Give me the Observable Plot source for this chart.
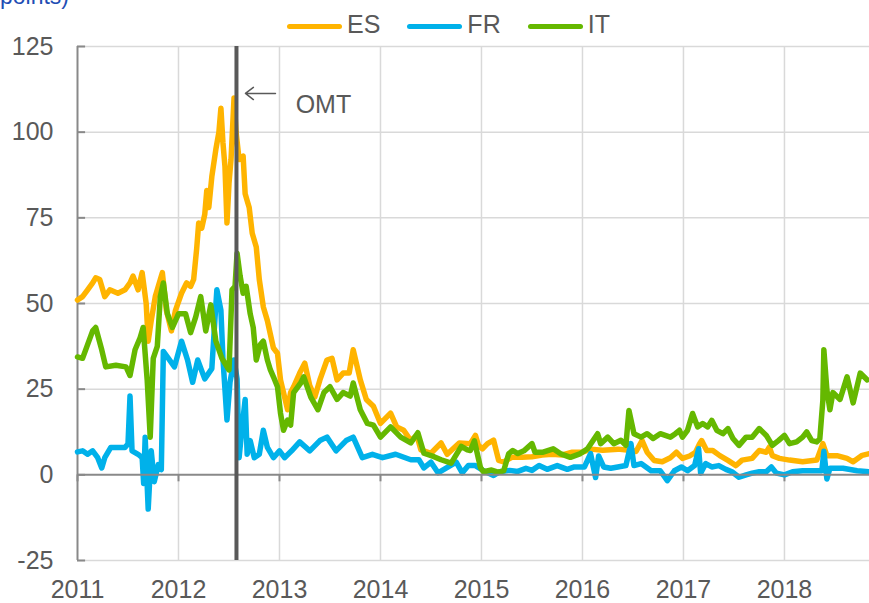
<!DOCTYPE html>
<html><head><meta charset="utf-8">
<script src="https://cdn.jsdelivr.net/npm/d3@7"></script>
<script src="https://cdn.jsdelivr.net/npm/@observablehq/plot@0.6"></script>
<style>
body{margin:0;background:#fff;font-family:"Liberation Sans",Arial,sans-serif;}
#wrap{position:relative;width:869px;height:603px;overflow:hidden;}
#sub{position:absolute;left:0;top:-15px;font-size:23px;line-height:23px;color:#1F4EB4;white-space:nowrap;}
#legend{position:absolute;left:287px;top:12px;display:flex;height:25px;}
.item{display:flex;margin-right:27px;}
.sw{width:55px;height:5px;border-radius:3px;margin-top:11.5px;margin-right:5px;}
.lab{font-size:25px;line-height:25px;color:#595959;}
#chart{position:absolute;left:0;top:0;}
</style></head>
<body>
<div id="wrap">
<div id="chart"></div>
<div id="sub">points)</div>
<div id="legend"></div>
</div>
<script>
const series = ["ES", "FR", "IT"];
const colors = ["#FFB400", "#00B1EA", "#65B800"];

const esYears = [2011.00,2011.05,2011.10,2011.15,2011.18,2011.22,2011.27,2011.32,2011.40,2011.47,2011.52,2011.55,2011.60,2011.64,2011.68,2011.70,2011.73,2011.77,2011.82,2011.84,2011.88,2011.93,2011.97,2012.03,2012.08,2012.12,2012.15,2012.18,2012.20,2012.23,2012.26,2012.28,2012.30,2012.33,2012.37,2012.40,2012.42,2012.44,2012.46,2012.48,2012.50,2012.52,2012.55,2012.57,2012.60,2012.64,2012.66,2012.68,2012.70,2012.73,2012.77,2012.80,2012.84,2012.88,2012.91,2012.94,2012.98,2013.01,2013.04,2013.08,2013.11,2013.14,2013.20,2013.25,2013.30,2013.35,2013.40,2013.47,2013.52,2013.57,2013.63,2013.69,2013.73,2013.80,2013.86,2013.93,2014.00,2014.10,2014.16,2014.23,2014.30,2014.36,2014.40,2014.50,2014.60,2014.66,2014.78,2014.89,2014.94,2014.97,2015.01,2015.06,2015.12,2015.17,2015.22,2015.30,2015.40,2015.50,2015.60,2015.70,2015.80,2015.90,2016.00,2016.08,2016.20,2016.35,2016.46,2016.53,2016.59,2016.64,2016.71,2016.79,2016.87,2016.93,2016.99,2017.06,2017.12,2017.16,2017.18,2017.23,2017.29,2017.36,2017.44,2017.52,2017.58,2017.68,2017.75,2017.82,2017.85,2017.88,2017.95,2018.05,2018.18,2018.32,2018.38,2018.42,2018.52,2018.62,2018.68,2018.77,2018.84];
const esValues = [51,52,54,56,57.5,57,52,54,53,54,56,58,54,59,50,39,45,52,57,59,48,42,48,53,56,55,57,66,73.5,72,76,83,78,87,95,100,107,97,90,73.5,85,92,110,100,92,93,82,80,78,70.5,66.5,57,49,45,41,37,35.5,27.7,24,19,24,25.7,29.7,32.6,26,22.7,27.7,33.5,34,27.7,29.7,29.7,36.5,27.7,22,20,15,18,14,13,10,11.5,7.3,6.3,9.3,6,9.3,9.1,11.5,8.6,7.6,9.1,10.1,4.2,3.8,5.1,5.1,5.3,5.8,6,5.8,6.6,6.6,7.5,7.2,7.5,7.2,6.8,10,6.6,4.2,3.8,5,6.6,4.8,5.5,6.6,9.1,10,7.1,7.1,5.6,4.2,2.7,4.3,4.8,7.1,6.6,8.1,5.6,4.8,4.3,3.8,4.3,9.1,5.6,5.6,4.8,3.8,5.7,6.2];

const frYears = [2011.00,2011.05,2011.10,2011.15,2011.20,2011.24,2011.27,2011.33,2011.40,2011.47,2011.50,2011.52,2011.54,2011.60,2011.64,2011.655,2011.67,2011.70,2011.73,2011.76,2011.80,2011.83,2011.85,2011.90,2011.96,2012.03,2012.09,2012.14,2012.19,2012.26,2012.33,2012.36,2012.38,2012.42,2012.44,2012.48,2012.51,2012.55,2012.58,2012.60,2012.63,2012.66,2012.68,2012.71,2012.75,2012.80,2012.84,2012.88,2012.94,2013.00,2013.05,2013.12,2013.20,2013.30,2013.40,2013.47,2013.56,2013.66,2013.73,2013.82,2013.92,2014.02,2014.15,2014.30,2014.38,2014.43,2014.50,2014.57,2014.75,2014.81,2014.87,2014.94,2015.02,2015.12,2015.18,2015.28,2015.36,2015.44,2015.50,2015.57,2015.65,2015.75,2015.85,2015.92,2016.02,2016.08,2016.13,2016.16,2016.21,2016.28,2016.35,2016.43,2016.48,2016.51,2016.58,2016.68,2016.77,2016.84,2016.91,2016.98,2017.04,2017.11,2017.15,2017.17,2017.22,2017.28,2017.35,2017.42,2017.48,2017.55,2017.62,2017.68,2017.75,2017.82,2017.87,2017.92,2018.00,2018.08,2018.18,2018.32,2018.37,2018.39,2018.42,2018.45,2018.58,2018.72,2018.84];
const frValues = [6.7,7,6,7,5,2,5,8,8,8,9,23,7,6,5,-2.5,11,-10,7,-2,3,1.5,36,34,31.5,39,33.5,27,33.5,28,31,45,54,48,34,16,27,33.5,28,5,14,22,6,10,5,6,13,8,5,7,5,7,9.6,7,10,11,7,10,11,5,6,5,6,4.4,4.4,2,3.7,0.6,3.7,0.6,2.7,2.7,1.2,-0.2,0.9,1.3,1.0,1.9,1.3,2.7,1.6,2.7,1.6,2.3,2.3,6.2,-0.8,5.5,2.3,1.9,2.3,2.7,9.1,2.7,3.3,1.2,1.2,-1.7,1.2,2.3,1.2,2.7,7.6,0.5,3.3,2.3,2.7,1.6,0.9,-0.7,0,0.5,0.9,0.9,2.3,0.5,0,0.9,1.2,1.2,1.2,6.9,-1.2,1.9,1.9,1.2,0.9];

const itYears = [2011.00,2011.05,2011.10,2011.15,2011.18,2011.24,2011.28,2011.38,2011.48,2011.52,2011.57,2011.62,2011.65,2011.69,2011.72,2011.75,2011.79,2011.82,2011.85,2011.89,2011.94,2012.00,2012.07,2012.12,2012.17,2012.22,2012.27,2012.32,2012.37,2012.43,2012.50,2012.53,2012.56,2012.58,2012.61,2012.64,2012.67,2012.71,2012.74,2012.77,2012.81,2012.84,2012.88,2012.91,2012.94,2012.98,2013.01,2013.04,2013.08,2013.11,2013.14,2013.21,2013.24,2013.31,2013.38,2013.44,2013.50,2013.57,2013.63,2013.70,2013.73,2013.80,2013.87,2013.93,2014.00,2014.10,2014.20,2014.30,2014.37,2014.43,2014.53,2014.60,2014.70,2014.80,2014.86,2014.89,2014.93,2014.99,2015.02,2015.10,2015.17,2015.22,2015.27,2015.31,2015.36,2015.42,2015.50,2015.53,2015.61,2015.71,2015.78,2015.88,2015.98,2016.05,2016.15,2016.18,2016.25,2016.31,2016.38,2016.43,2016.46,2016.51,2016.58,2016.64,2016.70,2016.77,2016.87,2016.92,2016.96,2016.99,2017.04,2017.09,2017.14,2017.19,2017.24,2017.28,2017.33,2017.39,2017.44,2017.49,2017.55,2017.62,2017.68,2017.75,2017.82,2017.88,2017.94,2018.00,2018.05,2018.12,2018.18,2018.22,2018.27,2018.32,2018.35,2018.38,2018.39,2018.42,2018.45,2018.48,2018.55,2018.62,2018.68,2018.75,2018.82];
const itValues = [34.4,34,38,42,43,36.5,31.5,32,31.5,29,36.5,40,43,27.7,11,34,37.5,52,56,47,43,47,47,41.5,46,52,42,49.6,39,34,30.6,54,55,64.7,58,53,55,47,43,33.5,38,39,33.5,30.6,28.6,25.7,18,13,16,14.5,24,26.8,28.6,22.7,19,24,25.7,22,24,23,26.8,19,15,14.5,11,14,11,9.3,12.3,6.3,5.3,4.4,3.4,8.3,7.3,7.1,9.9,2.1,0.9,1.4,0.7,1.2,6.2,7.1,6.2,7,9.1,6.6,6.6,7.6,6.2,5.1,6.2,7.6,12,9.1,11,9.1,10.1,8.6,18.8,12,11,12,10.6,12,11,12,13,11,13,17.9,14,15,14,15.9,13,12,13.5,10.6,8.6,11,11,13.5,11.5,8.6,10,11.5,9.1,9.6,11,12.5,10,9.6,10.5,21.7,36.5,24.8,19,24,22,28.6,21,29.7,27.7];

const yTicks = [-25, 0, 25, 50, 75, 100, 125];
const xTicks = [2011, 2012, 2013, 2014, 2015, 2016, 2017, 2018];
const xDomain = [2011, 2018.842];
const yDomain = [-25, 125];
const omtYear = [2012.574];
const omtArrow = [{x1: 2012.96, x2: 2012.663, y: 111.3}];
const omtLabel = [{x: 2013.16, y: 108, text: "OMT"}];

const years = {ES: esYears, FR: frYears, IT: itYears};
const values = {ES: esValues, FR: frValues, IT: itValues};
const data = series.flatMap(s => years[s].map((t, i) => ({series: s, t, v: values[s][i]})));

const grid = "#D9D9D9", axis = "#898989", ink = "#595959";

const chart = Plot.plot({
  width: 869, height: 603,
  marginLeft: 77, marginRight: 0, marginTop: 46, marginBottom: 43,
  style: {fontFamily: "Liberation Sans, Arial, sans-serif", fontSize: "25px", color: ink, background: "transparent", overflow: "visible"},
  x: {type: "linear", domain: xDomain},
  y: {domain: yDomain},
  color: {domain: series, range: colors},
  marks: [
    Plot.ruleY(yTicks.filter(d => d !== 0), {stroke: grid, strokeWidth: 1.5}),
    Plot.ruleX(xTicks.slice(1), {y1: yDomain[0], y2: yDomain[1], stroke: grid, strokeWidth: 1.5}),
    Plot.ruleX([xDomain[0]], {y1: yDomain[0], y2: yDomain[1], stroke: axis, strokeWidth: 2}),
    Plot.ruleY(yTicks, {x1: xDomain[0], x2: xDomain[0] + 0.08, stroke: axis, strokeWidth: 2}),
    Plot.ruleX(xTicks, {y1: 0, y2: -2.04, stroke: axis, strokeWidth: 2}),
    Plot.axisY({ticks: yTicks, tickSize: 0, tickPadding: 24, tickFormat: d => String(d), fontSize: 25, fill: ink}),
    Plot.axisX({ticks: xTicks, tickSize: 0, tickPadding: 20, tickFormat: d => String(d), fontSize: 25, fill: ink}),
    Plot.line(data, {x: "t", y: "v", z: "series", stroke: "series", strokeWidth: 5.5, strokeLinejoin: "round", strokeLinecap: "round"}),
    Plot.ruleY([0], {stroke: axis, strokeWidth: 2}),
    Plot.ruleX(omtYear, {y1: yDomain[0], y2: yDomain[1], stroke: ink, strokeWidth: 4}),
    Plot.arrow(omtArrow, {x1: "x1", y1: "y", x2: "x2", y2: "y", stroke: ink, strokeWidth: 1.5, headLength: 17, headAngle: 75}),
    Plot.text(omtLabel, {x: "x", y: "y", text: "text", textAnchor: "start", fontSize: 25, fill: ink})
  ]
});
document.getElementById("chart").appendChild(chart);

const legend = document.getElementById("legend");
series.forEach((s, i) => {
  const item = document.createElement("div");
  item.className = "item";
  const sw = document.createElement("div");
  sw.className = "sw";
  sw.style.background = colors[i];
  const lab = document.createElement("div");
  lab.className = "lab";
  lab.textContent = s;
  item.appendChild(sw);
  item.appendChild(lab);
  legend.appendChild(item);
});
</script>
</body></html>
